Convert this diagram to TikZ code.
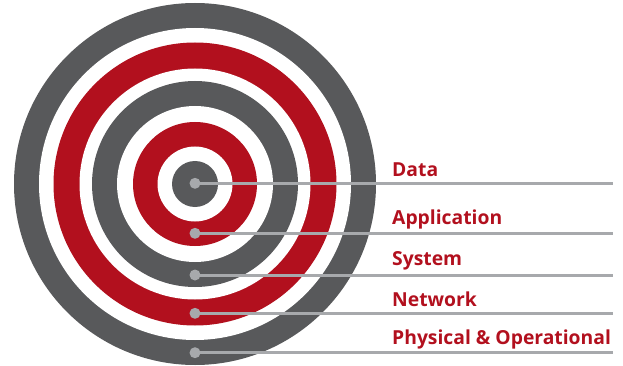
\documentclass[tikz,border=0pt]{standalone}
\usepackage{fontspec}
\setmainfont{Open Sans}
\definecolor{ringgray}{RGB}{88,89,91}
\definecolor{ringred}{RGB}{178,16,30}
\definecolor{leadgray}{RGB}{167,169,172}
\tikzset{
  dot/.style={circle,fill=leadgray,inner sep=0pt,minimum size=11pt},
  lead/.style={draw=leadgray,line width=3pt},
  layer/.style={anchor=base west,inner sep=0pt,text=ringred,font=\bfseries\fontsize{19.3}{21}\selectfont}
}
\begin{document}
\begin{tikzpicture}[x=1pt,y=-1pt]
    \newcommand{\cx}{195}
    \newcommand{\cy}{184}
    \newcommand{\lend}{613}
    \newcommand{\lx}{392}

    \useasboundingbox (0,0) rectangle (623,366);

    % rings, outside in
    \fill[ringgray] (\cx,\cy) circle (181);
    \fill[white]    (\cx,\cy) circle (156);
    \fill[ringred]  (\cx,\cy) circle (141.5);
    \fill[white]    (\cx,\cy) circle (115.5);
    \fill[ringgray] (\cx,\cy) circle (103);
    \fill[white]    (\cx,\cy) circle (78);
    \fill[ringred]  (\cx,\cy) circle (62);
    \fill[white]    (\cx,\cy) circle (37.5);
    \fill[ringgray] (\cx,\cy) circle (23);

    % leads
    \coordinate (e1) at (\lend,183.3);
    \coordinate (e2) at (\lend,233.3);
    \coordinate (e3) at (\lend,275);
    \coordinate (e4) at (\lend,313.3);
    \coordinate (e5) at (\lend,352.7);
    \node[dot] (d1) at (\cx,183.3) {};
    \node[dot] (d2) at (\cx,233.3) {};
    \node[dot] (d3) at (\cx,275) {};
    \node[dot] (d4) at (\cx,313.3) {};
    \node[dot] (d5) at (\cx,352.7) {};
    \draw[lead] (d1.center) -- (e1);
    \draw[lead] (d2.center) -- (e2);
    \draw[lead] (d3.center) -- (e3);
    \draw[lead] (d4.center) -- (e4);
    \draw[lead] (d5.center) -- (e5);

    % labels
    \node[layer] (data) at (\lx,176.7) {Data};
    \node[layer] (app)  at (\lx,224)   {Application};
    \node[layer] (sys)  at (\lx,265)   {System};
    \node[layer] (net)  at (\lx,306.7) {Network};
    \node[layer] (phys) at (\lx,344)   {Physical \& Operational};
\end{tikzpicture}
\end{document}
